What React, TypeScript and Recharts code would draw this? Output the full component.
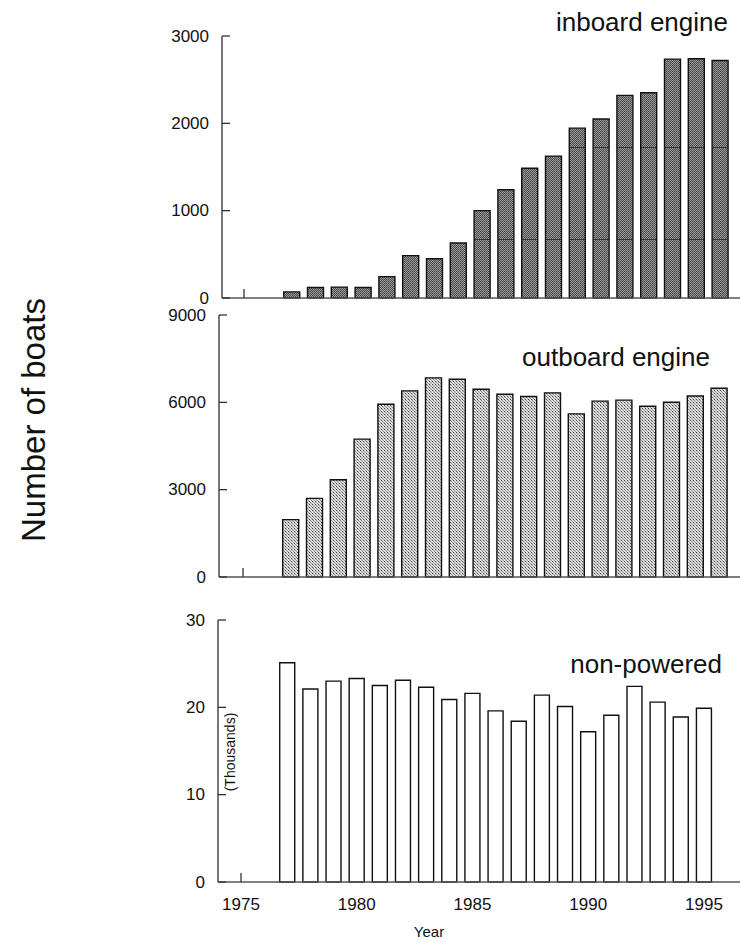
import React from 'react';
import { BarChart, Bar, XAxis, YAxis } from 'recharts';

// years on the shared x axis (no data for 1975, 1976)
const years = [1975, 1976, 1977, 1978, 1979, 1980, 1981, 1982, 1983, 1984, 1985, 1986, 1987, 1988, 1989, 1990, 1991, 1992, 1993, 1994, 1995];
const yearLabels = [1975, 1980, 1985, 1990, 1995];

const inboard = [null, null, 70, 120, 125, 120, 245, 485, 450, 630, 1000, 1240, 1485, 1625, 1945, 2050, 2320, 2350, 2735, 2740, 2720];
const outboard = [null, null, 1970, 2700, 3340, 4735, 5935, 6395, 6840, 6795, 6450, 6280, 6200, 6325, 5605, 6040, 6075, 5865, 6005, 6220, 6485];
const nonPowered = [null, null, 25.1, 22.1, 23.0, 23.3, 22.5, 23.1, 22.3, 20.9, 21.6, 19.6, 18.4, 21.4, 20.1, 17.2, 19.1, 22.4, 20.6, 18.9, 19.9];

const inboardTicks = [0, 1000, 2000, 3000];
const outboardTicks = [0, 3000, 6000, 9000];
const nonPoweredTicks = [0, 10, 20, 30];

const W = 741;
const H = 942;
const AXIS_END = 740;
const FONT = '"Liberation Sans", Arial, sans-serif';

const YTick = (props: any) => {
  const { x, y, payload } = props;
  return (
    <g>
      <line x1={x} x2={x + 8} y1={y} y2={y} stroke="#333" strokeWidth={1.3} />
      <text x={x - 13} y={y} textAnchor="end" dominantBaseline="central" fontSize={17} fontFamily={FONT} fill="#111">
        {payload.value}
      </text>
    </g>
  );
};

const makeXTick = (showLabels: boolean) => (props: any) => {
  const { x, y, payload } = props;
  const v = payload.value;
  return (
    <g>
      {v === 1975 && <line x1={x} x2={x} y1={y} y2={y - 9} stroke="#333" strokeWidth={1.3} />}
      {showLabels && yearLabels.includes(v) && (
        <text x={x} y={y + 22} textAnchor="middle" dominantBaseline="central" fontSize={17} fontFamily={FONT} fill="#111">
          {v}
        </text>
      )}
    </g>
  );
};

interface PanelProps {
  top: number;
  height: number;
  axisX: number;
  x1975: number;
  x1995: number;
  plotTop: number;
  plotBottom: number;
  values: (number | null)[];
  ticks: number[];
  fill: string;
  barSize: number;
  showYears?: boolean;
  defs?: React.ReactNode;
}

function Panel({ top, height, axisX, x1975, x1995, plotTop, plotBottom, values, ticks, fill, barSize, showYears, defs }: PanelProps) {
  const band = (x1995 - x1975) / 20;
  const padLeft = x1975 - band / 2 - axisX;
  const padRight = AXIS_END - (x1995 + band / 2);
  const xAxisHeight = 40;
  const data = years.map((yr, i) => ({ year: yr, value: values[i] }));
  return (
    <div style={{ position: 'absolute', left: 0, top }}>
      <BarChart
        width={W}
        height={height}
        data={data}
        margin={{ top: plotTop - top, left: axisX - 60, right: W - AXIS_END, bottom: height - (plotBottom - top) - xAxisHeight }}
      >
        {defs}
        <XAxis
          dataKey="year"
          type="category"
          interval={0}
          height={xAxisHeight}
          padding={{ left: padLeft, right: padRight }}
          tickSize={0}
          tickMargin={0}
          tickLine={false}
          axisLine={{ stroke: '#555', strokeWidth: 1.6 }}
          tick={makeXTick(!!showYears)}
        />
        <YAxis
          type="number"
          width={60}
          domain={[0, ticks[ticks.length - 1]]}
          ticks={ticks}
          interval={0}
          tickSize={0}
          tickMargin={0}
          tickLine={false}
          axisLine={{ stroke: '#555', strokeWidth: 1.6 }}
          tick={YTick}
        />
        <Bar dataKey="value" fill={fill} stroke="#111" strokeWidth={1.4} barSize={barSize} isAnimationActive={false} />
      </BarChart>
    </div>
  );
}

export default function App() {
  return (
    <div style={{ position: 'relative', width: W, height: H, background: '#fff', fontFamily: FONT }}>
      <style>{`body{margin:0}`}</style>
      <Panel
        top={0}
        height={310}
        axisX={222}
        x1975={244}
        x1995={720}
        plotTop={36}
        plotBottom={298}
        values={inboard}
        ticks={inboardTicks}
        fill="url(#inbLines)"
        barSize={16}
        defs={
          <defs>
            <pattern id="inbDots" patternUnits="userSpaceOnUse" width="2" height="2">
              <rect width="2" height="2" fill="#9a9a9a" />
              <rect width="1" height="1" fill="#444" />
              <rect x="1" y="1" width="1" height="1" fill="#505050" />
            </pattern>
            <pattern id="inbLines" patternUnits="userSpaceOnUse" x="0" y="55" width="4" height="92">
              <rect width="4" height="92" fill="url(#inbDots)" />
              <rect width="4" height="1" fill="#333" />
            </pattern>
          </defs>
        }
      />
      <Panel
        top={300}
        height={300}
        axisX={219}
        x1975={243}
        x1995={719}
        plotTop={315}
        plotBottom={577}
        values={outboard}
        ticks={outboardTicks}
        fill="url(#outDots)"
        barSize={16}
        defs={
          <defs>
            <pattern id="outDots" patternUnits="userSpaceOnUse" width="3" height="3">
              <rect width="3" height="3" fill="#dcdcdc" />
              <rect width="1" height="1" fill="#444" />
              <rect x="1" y="1" width="1" height="1" fill="#888" />
              <rect x="2" y="2" width="1" height="1" fill="#999" />
            </pattern>
          </defs>
        }
      />
      <Panel
        top={600}
        height={342}
        axisX={218}
        x1975={241}
        x1995={704}
        plotTop={620}
        plotBottom={882}
        values={nonPowered}
        ticks={nonPoweredTicks}
        fill="#fff"
        barSize={15}
        showYears
      />
      <svg width={W} height={H} style={{ position: 'absolute', left: 0, top: 0, pointerEvents: 'none' }}>
        <g fontFamily={FONT} fill="#111">
          <text x={728} y={31} textAnchor="end" fontSize={26}>inboard engine</text>
          <text x={710} y={366} textAnchor="end" fontSize={26}>outboard engine</text>
          <text x={722} y={673} textAnchor="end" fontSize={26}>non-powered</text>
          <text x={429} y={931} textAnchor="middle" dominantBaseline="central" fontSize={15}>Year</text>
          <text transform="translate(33,420) rotate(-90)" textAnchor="middle" dominantBaseline="central" fontSize={33}>Number of boats</text>
          <text transform="translate(230,752) rotate(-90)" textAnchor="middle" dominantBaseline="central" fontSize={14}>(Thousands)</text>
        </g>
      </svg>
    </div>
  );
}
